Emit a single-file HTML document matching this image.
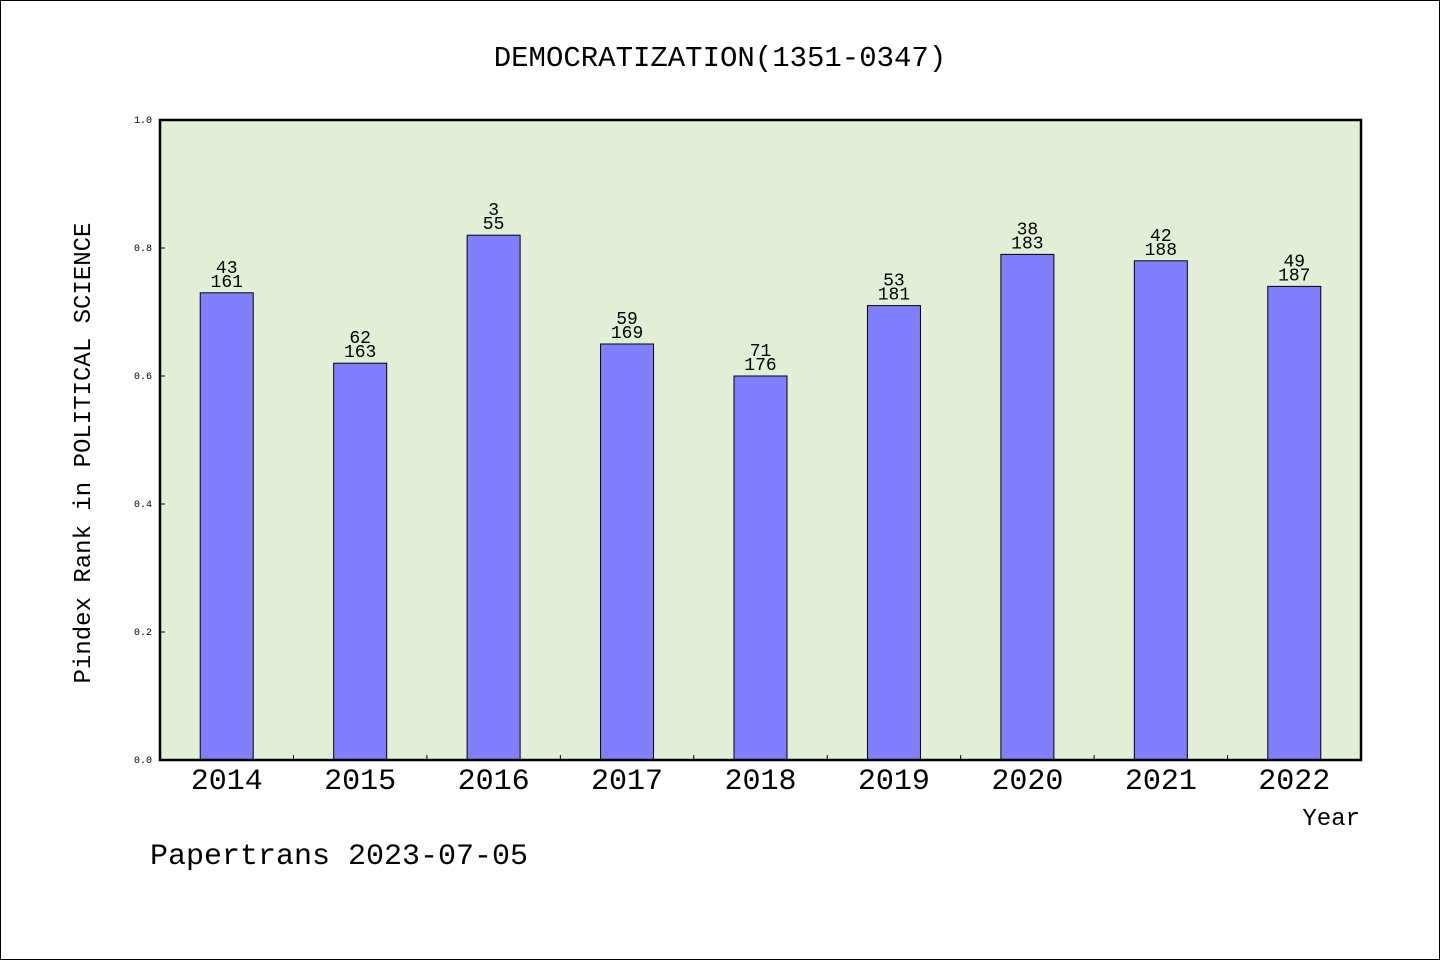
<!DOCTYPE html>
<html><head><meta charset="utf-8"><style>
html,body{margin:0;padding:0;background:#fff}
svg{display:block}
text{font-family:"Liberation Mono","WenQuanYi Zen Hei",monospace;fill:#000}
</style></head><body>
<svg id="chart" width="1440" height="960" viewBox="0 0 1440 960">
<rect x="0.5" y="0.5" width="1439" height="959" fill="#fff" stroke="#000"/>
<text x="720" y="66" font-size="29" text-anchor="middle">DEMOCRATIZATION(1351-0347)</text>
<rect x="160" y="120" width="1201" height="640" fill="#e2efd6"/>
<g id="bars"></g>
<g id="yaxis"></g>
<g id="xaxis"></g>
<rect x="160" y="120" width="1201" height="640" fill="none" stroke="#000" stroke-width="2.5"/>
<text transform="translate(90,453) rotate(-90)" font-size="24" text-anchor="middle">Pindex Rank in POLITICAL SCIENCE</text>
<text x="1360" y="825" font-size="24" text-anchor="end">Year</text>
<text x="150" y="864" font-size="30">Papertrans 2023-07-05</text>
</svg>
<script>
const categories=["2014","2015","2016","2017","2018","2019","2020","2021","2022"];
const values=[0.73,0.62,0.82,0.65,0.60,0.71,0.79,0.78,0.74];
const ranks=["43","62","3","59","71","53","38","42","49"];
const totals=["161","163","55","169","176","181","183","188","187"];
const yTicks=[0,0.2,0.4,0.6,0.8,1.0];
const NS="http://www.w3.org/2000/svg";
const X0=160,X1=1361,Y0=760,Y1=120;
const band=(X1-X0)/categories.length;
const xc=i=>X0+band*(i+0.5);
const y=v=>Y0-(v-0)/(1-0)*(Y0-Y1);
function mk(tag,attrs,parent){const e=document.createElementNS(NS,tag);for(const k in attrs)e.setAttribute(k,attrs[k]);parent.appendChild(e);return e;}
const gb=document.getElementById('bars'),gy=document.getElementById('yaxis'),gx=document.getElementById('xaxis');
const bw=53;
categories.forEach((c,i)=>{
  const r=mk('rect',{x:xc(i)-bw/2,y:y(values[i]),width:bw,height:Y0-y(values[i]),fill:'#8080ff',stroke:'#000','stroke-width':1},gb);
  
  
  const t1=mk('text',{x:xc(i),y:y(values[i])-20,'font-size':18,'text-anchor':'middle'},gb);
  t1.textContent=ranks[i];
  
  
  const t2=mk('text',{x:xc(i),y:y(values[i])-6,'font-size':18,'text-anchor':'middle'},gb);
  t2.textContent=totals[i];
  
  
  const xl=mk('text',{x:xc(i),y:789,'font-size':30,'text-anchor':'middle'},gx);
  xl.textContent=c;
  
  
  if(i>0){const tk=mk('line',{x1:X0+band*i,x2:X0+band*i,y1:Y0,y2:Y0-5,stroke:'#000'},gx);
  
  }
});
yTicks.forEach(v=>{
  const tk=mk('line',{x1:X0,x2:X0+5,y1:y(v),y2:y(v),stroke:'#000'},gy);
  
  
  const t=mk('text',{x:152,y:y(v)+3,'font-size':10,'text-anchor':'end'},gy);
  t.textContent=v.toFixed(1);
  
  
});
</script>
</body></html>
